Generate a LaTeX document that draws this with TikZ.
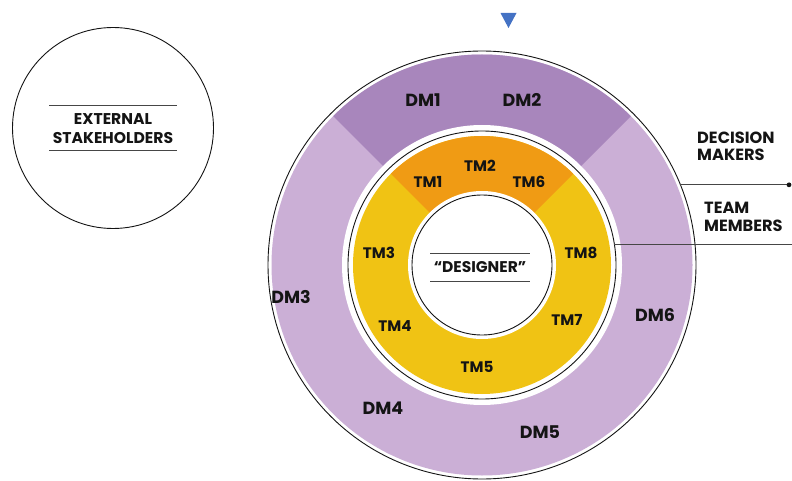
\documentclass[tikz,border=0pt]{standalone}
\usepackage{fontspec}
\setmainfont{Poppins}
\definecolor{ink}{RGB}{20,20,20}
\definecolor{rulegray}{RGB}{70,70,70}
\definecolor{dmlight}{RGB}{203,175,214}
\definecolor{dmdark}{RGB}{168,134,188}
\definecolor{tmorange}{RGB}{240,155,20}
\definecolor{tmyellow}{RGB}{240,195,20}
\definecolor{marker}{RGB}{68,114,196}
\begin{document}
\begin{tikzpicture}[x=1pt,y=-1pt,
  ring/.style={circle, draw=ink, line width=0.9pt, fill=white, inner sep=0pt, outer sep=0pt},
  dmlabel/.style={font=\bfseries\fontsize{17.5}{20}\selectfont, text=ink, inner sep=0pt},
  tmlabel/.style={font=\bfseries\fontsize{15.2}{18}\selectfont, text=ink, inner sep=0pt},
  sidelabel/.style={font=\bfseries\fontsize{16.2}{17.5}\selectfont, text=ink, inner sep=0pt, align=left, anchor=west},
  rule/.style={draw=rulegray, line width=0.9pt},
  conn/.style={draw=rulegray, line width=0.9pt}]
\useasboundingbox (0,0) rectangle (792,481);

% marker at the top
\fill[marker] (500.5,13) -- (516.5,13) -- (508.5,28) -- cycle;

% external stakeholders
\node[ring, minimum size=201pt] (ext) at (113,128) {};
\node[tmlabel, align=center, font=\bfseries\fontsize{15.6}{19}\selectfont] (exttext) at (113,129) {EXTERNAL\\STAKEHOLDERS};
\draw[rule] (49,105) -- (177,105);
\draw[rule] (49,150) -- (177,150);

% decision makers ring
\node[ring, minimum size=428pt] (outer) at (482,265) {};
\fill[dmlight] (outer.center) circle[radius=210.5];
\fill[dmdark] (outer.center) -- ++(225:210.5) arc[start angle=225, end angle=315, radius=210.5] -- cycle;
\fill[white] (outer.center) circle[radius=140];

% team members ring
\node[ring, minimum size=268pt] (team) at (outer.center) {};
\fill[tmyellow] (team.center) circle[radius=129];
\fill[tmorange] (team.center) -- ++(225:129) arc[start angle=225, end angle=315, radius=129] -- cycle;
\fill[white] (team.center) circle[radius=74];

% designer core
\node[ring, minimum size=140pt] (core) at (team.center) {};
\node[tmlabel, font=\bfseries\fontsize{15.5}{17}\selectfont] (designer) at (480,267) {``DESIGNER''};
\draw[rule] (430,253) -- (530,253);
\draw[rule] (430,281) -- (530,281);

% decision maker labels
\node[dmlabel] (dm1) at (423,100) {DM1};
\node[dmlabel] (dm2) at (522,100) {DM2};
\node[dmlabel] (dm3) at (291,297) {DM3};
\node[dmlabel] (dm4) at (383,408) {DM4};
\node[dmlabel] (dm5) at (540,432) {DM5};
\node[dmlabel] (dm6) at (655,315) {DM6};

% team member labels
\node[tmlabel] (tm1) at (428,182) {TM1};
\node[tmlabel] (tm2) at (480,166) {TM2};
\node[tmlabel] (tm6) at (529,182) {TM6};
\node[tmlabel] (tm3) at (379,253) {TM3};
\node[tmlabel] (tm8) at (581,253) {TM8};
\node[tmlabel] (tm4) at (395,326) {TM4};
\node[tmlabel] (tm7) at (567,320) {TM7};
\node[tmlabel] (tm5) at (477,367) {TM5};

% side legend
\node[sidelabel] (dmkey) at (697,146.5) {DECISION\\MAKERS};
\node[sidelabel] (tmkey) at (704,217) {TEAM\\MEMBERS};
\coordinate (dmend) at (789,182);
\coordinate (tmend) at (792,243);
\draw[conn] (outer.22.8) -- (outer.22.8 -| dmend);
\fill[ink] (outer.22.8 -| dmend) circle[radius=2.4];
\draw[conn] (team.9.45) -- (team.9.45 -| tmend);
\end{tikzpicture}
\end{document}
